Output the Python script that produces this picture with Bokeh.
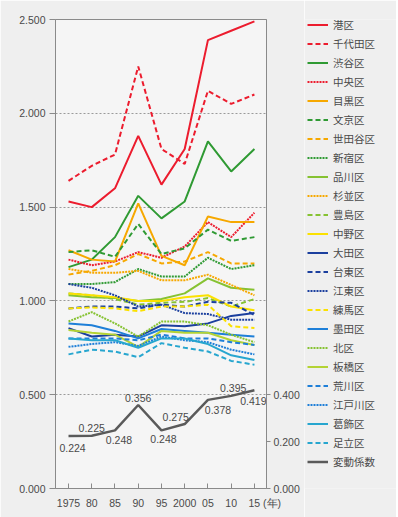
from bokeh.plotting import figure
from bokeh.layouts import row
from bokeh.models import (Range1d, LinearAxis, FixedTicker, Legend, LegendItem,
                          ColumnDataSource, NumeralTickFormatter)
from bokeh.core.properties import value
from bokeh.embed import file_html
from bokeh.resources import INLINE

years = [1975, 1980, 1985, 1990, 1995, 2000, 2005, 2010, 2015]
year_labels = ["1975", "80", "85", "90", "95", "2000", "05", "10", "15"]
year_unit = "(年)"

wards = ["港区", "千代田区", "渋谷区", "中央区", "目黒区", "文京区", "世田谷区", "新宿区",
         "品川区", "杉並区", "豊島区", "中野区", "大田区", "台東区", "江東区", "練馬区",
         "墨田区", "北区", "板橋区", "荒川区", "江戸川区", "葛飾区", "足立区"]

minato    = [1.53, 1.50, 1.60, 1.88, 1.62, 1.81, 2.39, 2.44, 2.49]
chiyoda   = [1.64, 1.72, 1.78, 2.25, 1.81, 1.73, 2.12, 2.05, 2.10]
shibuya   = [1.18, 1.22, 1.34, 1.56, 1.44, 1.53, 1.85, 1.69, 1.81]
chuo      = [1.22, 1.19, 1.21, 1.26, 1.23, 1.29, 1.42, 1.34, 1.47]
meguro    = [1.27, 1.22, 1.21, 1.52, 1.24, 1.19, 1.45, 1.42, 1.42]
bunkyo    = [1.26, 1.27, 1.235, 1.41, 1.25, 1.28, 1.38, 1.32, 1.34]
setagaya  = [1.14, 1.16, 1.19, 1.25, 1.20, 1.21, 1.26, 1.20, 1.20]
shinjuku  = [1.09, 1.09, 1.10, 1.17, 1.13, 1.13, 1.23, 1.17, 1.19]
shinagawa = [1.03, 1.02, 1.015, 1.00, 1.01, 1.04, 1.12, 1.07, 1.06]
suginami  = [1.17, 1.15, 1.15, 1.16, 1.11, 1.11, 1.14, 1.085, 1.03]
toshima   = [1.04, 1.03, 1.01, 0.98, 0.99, 0.995, 1.015, 0.97, 1.01]
nakano    = [1.04, 1.03, 1.02, 1.00, 1.00, 1.02, 1.03, 0.97, 0.95]
ota       = [0.855, 0.81, 0.82, 0.81, 0.87, 0.865, 0.88, 0.92, 0.935]
taito     = [0.96, 0.97, 0.97, 0.96, 0.98, 0.97, 0.995, 0.99, 0.925]
koto      = [1.09, 1.07, 1.03, 0.97, 0.98, 0.935, 0.93, 0.90, 0.90]
nerima    = [0.96, 0.965, 0.96, 0.945, 0.97, 0.97, 0.98, 0.865, 0.855]
sumida    = [0.88, 0.87, 0.84, 0.80, 0.85, 0.84, 0.83, 0.82, 0.81]
kita      = [0.89, 0.94, 0.88, 0.81, 0.89, 0.89, 0.87, 0.82, 0.78]
itabashi  = [0.845, 0.83, 0.82, 0.755, 0.84, 0.83, 0.83, 0.79, 0.765]
arakawa   = [0.80, 0.80, 0.80, 0.79, 0.82, 0.80, 0.80, 0.78, 0.765]
edogawa   = [0.755, 0.77, 0.78, 0.76, 0.81, 0.79, 0.78, 0.74, 0.715]
katsushika= [0.80, 0.79, 0.79, 0.75, 0.80, 0.80, 0.77, 0.71, 0.685]
adachi    = [0.715, 0.74, 0.73, 0.70, 0.775, 0.75, 0.73, 0.68, 0.66]

cv = [0.224, 0.225, 0.248, 0.356, 0.248, 0.275, 0.378, 0.395, 0.419]
cv_label = "変動係数"

series = [minato, chiyoda, shibuya, chuo, meguro, bunkyo, setagaya, shinjuku,
          shinagawa, suginami, toshima, nakano, ota, taito, koto, nerima,
          sumida, kita, itabashi, arakawa, edogawa, katsushika, adachi]

RED, GREEN, ORANGE, YG, YEL, NAVY, BLUE, LIME, CYAN = (
    "#ec1c2e", "#2f9a33", "#f6a800", "#86c232", "#fbe100", "#1b3f9e",
    "#1e7fd8", "#b4d334", "#27a6cf")
SOLID, DASH, DOT = "solid", "5 3", "2 1"
styles = [(RED, SOLID), (RED, DASH), (GREEN, SOLID), (RED, DOT), (ORANGE, SOLID),
          (GREEN, DASH), (ORANGE, DASH), (GREEN, DOT), (YG, SOLID), (ORANGE, DOT),
          (YG, DASH), (YEL, SOLID), (NAVY, SOLID), (NAVY, DASH), (NAVY, DOT),
          (YEL, DASH), (BLUE, SOLID), (YG, DOT), (LIME, SOLID), (BLUE, DASH),
          (BLUE, DOT), (CYAN, SOLID), (CYAN, DASH)]

FONT = "Liberation Sans"
JFONT = "Noto Sans CJK JP"
TXT = "#4a4a4a"
FS = "10.5px"
BG = "#efefef"
CV_COLOR = "#5a5a5a"

# ---------------- main chart ----------------
p = figure(frame_width=211, frame_height=469,
           x_range=Range1d(1972.2, 2017.6), y_range=Range1d(0, 2.5),
           output_backend="svg", toolbar_location=None,
           min_border_left=55, min_border_top=19, min_border_bottom=29,
           min_border_right=38,
           background_fill_color="#f5f5f5", border_fill_color=BG,
           outline_line_color="#8a8a8a", outline_line_width=1)
p.extra_y_ranges = {"cv": Range1d(0, 2.0)}

pad = "\u2003\u2002\u2009\u00a0"
overrides = {y: l for y, l in zip(years, year_labels)}
overrides[years[-1]] = pad + year_labels[-1] + "\u00a0" + year_unit
p.xaxis.ticker = FixedTicker(ticks=years)
p.xaxis.major_label_overrides = overrides
p.xaxis.major_tick_in = 5
p.xaxis.major_tick_out = 0
p.xaxis.minor_tick_line_color = None
p.xaxis.axis_line_color = "#8a8a8a"
p.xaxis.major_tick_line_color = "#8a8a8a"
p.xaxis.major_label_standoff = 8

p.yaxis.ticker = FixedTicker(ticks=[0, 0.5, 1.0, 1.5, 2.0, 2.5])
p.yaxis.formatter = NumeralTickFormatter(format="0.000")
p.yaxis.major_tick_out = 6
p.yaxis.major_tick_in = 0
p.yaxis.minor_tick_line_color = None
p.yaxis.axis_line_color = "#8a8a8a"
p.yaxis.major_tick_line_color = "#8a8a8a"
p.yaxis.major_label_standoff = 4

ax_r = LinearAxis(y_range_name="cv", ticker=FixedTicker(ticks=[0, 0.2, 0.4]),
                  formatter=NumeralTickFormatter(format="0.000"),
                  major_tick_out=4, major_tick_in=0, minor_tick_line_color=None,
                  axis_line_color="#8a8a8a", major_tick_line_color="#8a8a8a",
                  major_label_standoff=3)
p.add_layout(ax_r, "right")

for ax in [p.xaxis[0], p.yaxis[0], ax_r]:
    ax.major_label_text_font = FONT
    ax.major_label_text_font_size = FS
    ax.major_label_text_color = TXT

p.xgrid.grid_line_color = None
p.ygrid.ticker = FixedTicker(ticks=[0.5, 1.0, 1.5, 2.0])
p.ygrid.grid_line_color = "#9a9a9a"
p.ygrid.grid_line_dash = "2 2"
p.ygrid.grid_line_width = 1

for vals, (col, dash) in zip(series, styles):
    p.line(years, vals, line_color=col, line_dash=dash, line_width=2)

src = ColumnDataSource(dict(x=years, y=cv, t=["%.3f" % v for v in cv],
                            dx=[4, 0, 4, 0, 2, -9, 10, 2, -1],
                            dy=[12, -8, 10, -7, 9, -7, 10, -8, 11]))
p.line("x", "y", source=src, y_range_name="cv", line_color=CV_COLOR, line_width=2.5)
p.text("x", "y", text="t", source=src, y_range_name="cv", x_offset="dx", y_offset="dy",
       text_align="center", text_baseline="middle", text_font=value(FONT),
       text_font_size=FS, text_color=TXT)

# ---------------- legend panel ----------------
# same series drawn into a companion figure whose view lies above the data,
# so only the legend keys show
lg = figure(width=92, height=517, x_range=Range1d(1972.2, 2017.6),
            y_range=Range1d(10, 11), output_backend="svg", toolbar_location=None,
            x_axis_location=None, y_axis_location=None,
            min_border_left=0, min_border_right=0, min_border_top=0, min_border_bottom=0,
            background_fill_color=BG, border_fill_color=BG, outline_line_color=None)
lg.xgrid.grid_line_color = None
lg.ygrid.grid_line_color = None

items = []
for name, vals, (col, dash) in zip(wards, series, styles):
    r = lg.line(years, vals, line_color=col, line_dash=dash, line_width=2)
    items.append(LegendItem(label=name, renderers=[r]))
rcv = lg.line(years, cv, line_color=CV_COLOR, line_width=2.5)
items.append(LegendItem(label=cv_label, renderers=[rcv]))

legend = Legend(items=items, location=(1, 15), margin=0, padding=2,
                spacing=0, label_height=19, glyph_height=19, glyph_width=21,
                label_standoff=5, label_text_font=JFONT, label_text_font_size=FS,
                label_text_color=TXT, background_fill_alpha=0, border_line_alpha=0)
lg.add_layout(legend, "center")

layout = row(p, lg, spacing=0)
open("out.html", "w").write(file_html(layout, INLINE))
